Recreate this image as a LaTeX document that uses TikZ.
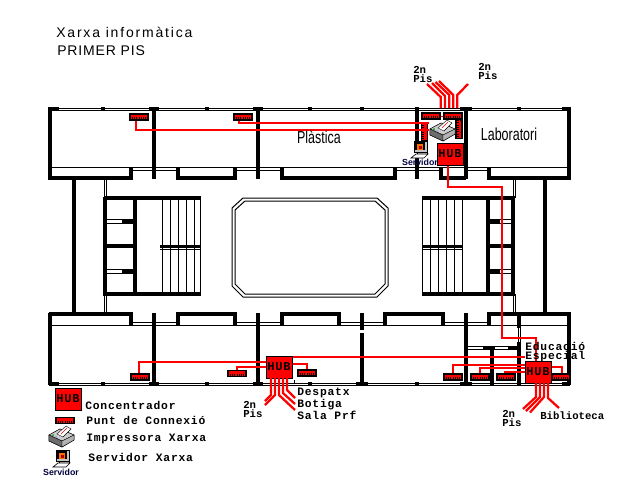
\documentclass[tikz,border=0pt]{standalone}
\usetikzlibrary{calc}
\usepackage{fontspec}
\setmainfont{Liberation Sans}
\newfontfamily\pixf{Liberation Mono}[BoldFont={Liberation Mono Bold},LetterSpace=7]
\newfontfamily\pixn{Liberation Mono}[BoldFont={Liberation Mono Bold}]
\newfontfamily\titlef[LetterSpace=13]{Liberation Sans}
\newfontfamily\titleg[LetterSpace=6]{Liberation Sans}
\begin{document}
\begin{tikzpicture}[x=0.75pt,y=-0.75pt,
  wall/.style={line width=3.3pt,black},
  midwall/.style={line width=2.25pt,black},
  thin/.style={line width=0.75pt,black},
  net/.style={line width=2.2pt,red},
  fan/.style={line width=1.7pt,red},
  hub/.style={draw=black,line width=0.75pt,fill=red,minimum width=19.5pt,minimum height=16.5pt,inner sep=0pt,font=\pixf\bfseries\fontsize{9}{10}\selectfont},
  punt/.style={draw=black,line width=0.9pt,fill=red,minimum width=13.5pt,minimum height=4.5pt,inner sep=0pt,
    path picture={\foreach \i in {1,...,7}{\draw[black,line width=0.5pt] ($(path picture bounding box.south west)!\i/8!(path picture bounding box.south east)$) -- ++(0pt,2pt);}}},
  puntv/.style={draw=black,line width=0.9pt,fill=red,minimum width=4.5pt,minimum height=13.5pt,inner sep=0pt,
    path picture={\foreach \i in {1,...,7}{\draw[black,line width=0.5pt] ($(path picture bounding box.south west)!\i/8!(path picture bounding box.north west)$) -- ++(2pt,0pt);}}},
  lab/.style={anchor=west,inner sep=0pt,align=left,font=\pixf\bfseries\fontsize{8.5}{7}\selectfont},
  labn/.style={anchor=west,inner sep=0pt,align=left,font=\pixn\bfseries\fontsize{8}{7}\selectfont},
  titl/.style={anchor=west,inner sep=0pt,font=\titlef\fontsize{10.5}{12}\selectfont},
  titg/.style={anchor=west,inner sep=0pt,font=\titleg\fontsize{10.5}{12}\selectfont},
  room/.style={inner sep=0pt,xscale=0.72,transform shape,font=\fontsize{13}{13}\selectfont},
  srvlab/.style={inner sep=0pt,text=blue!25!black,font=\bfseries\fontsize{6.6}{7}\selectfont},
  printer/.pic={
    \fill[gray!65,draw=black,line width=0.4pt] (-13,-2)--(-2,-8)--(12,-2)--(12,3)--(0,10)--(-13,4)--cycle;
    \fill[gray!40,draw=black,line width=0.3pt] (-13,-2)--(-2,-8)--(12,-2)--(0,4)--cycle;
    \fill[gray!85!black,draw=black,line width=0.3pt] (-13,-2)--(0,4)--(0,10)--(-13,4)--cycle;
    \fill[gray!60,draw=black,line width=0.3pt] (0,4)--(12,-2)--(12,3)--(0,10)--cycle;
    \fill[white,draw=black,line width=0.3pt] (-5,-3)--(4,-11)--(9,-8)--(1,0)--cycle;
    \draw[red,line width=0.5pt] (-1,-3)--(5,-9);
    \fill[green!60!black] (-9,-2) circle (1);
    \fill[blue!50] (-6,0) circle (0.8);
  },
  server/.pic={
    \fill[white] (-9,-8) rectangle (8,9);
    \fill[gray!45,draw=black,line width=0.5pt] (-6,-8) rectangle (7,3);
    \fill[black] (-5,-7) rectangle (5,1);
    \fill[orange!85!red] (-3,-5) rectangle (3,1);
    \fill[red!70!black] (-1,-3) rectangle (2,0);
    \fill[gray!30,draw=black,line width=0.4pt] (-3,3)--(7,3)--(7,5)--(-3,5)--cycle;
    \fill[white,draw=black,line width=0.5pt] (-9,9)--(-4,5)--(8,5)--(4,9)--cycle;
  }
]
\useasboundingbox (0,0) rectangle (640,480);
\fill[white] (0,0) rectangle (640,480);

% ---- top block
\draw[thin] (50,108.5)--(570,108.5) (50,110.5)--(570,110.5);
\foreach \x in {103,207,310,362,519}{\fill (\x-2,107) rectangle (\x+2,111);}
\foreach \x/\w in {54/5,154/5,258/5,466/6,566/4}{\fill (\x-\w,107) rectangle (\x+\w,111);}
\draw[wall] (50,107)--(50,180);
\foreach \x in {154,258,417,466,569}{\draw[wall] (\x,107)--(\x,179);}
\draw[thin] (50,167)--(570,167);
\foreach \a/\b in {131/178,235/282,395/441,466/489}{\draw[thin] (\a,170)--(\b,170);}
\draw[wall] (50,178)--(133,178) (131,178)--(131,167);
\draw[wall] (178,168)--(178,178)--(235,178)--(235,168);
\draw[wall] (282,168)--(282,178)--(395,178)--(395,168);
\draw[wall] (441,168)--(441,178)--(466,178);
\draw[wall] (489,168)--(489,178)--(571,178);

% ---- corridor
\draw[wall] (74,179)--(74,314);
\draw[wall] (545,179)--(545,314);
\draw[thin] (104,179)--(104,198) (106.5,179)--(106.5,198) (104,294)--(104,314) (106.5,294)--(106.5,314);
\draw[thin] (513,179)--(513,198) (515.5,179)--(515.5,198) (513,294)--(513,314) (515.5,294)--(515.5,314);

% ---- left stairs
\draw[wall] (104,198)--(201,198) (104,294)--(201,294);
\draw[wall] (105,197)--(105,296) (135,197)--(135,296);
\draw[wall] (105,246)--(135,246) (122,221)--(135,221) (122,271)--(135,271);
\draw[thin] (105,219)--(135,219) (105,223)--(135,223) (105,269)--(135,269) (105,273)--(135,273);
\foreach \x in {162,170,178,186,194,200}{\draw[thin] (\x,198)--(\x,294);}
\draw[midwall] (160,246)--(200,246);
\draw[thin] (160,249)--(200,249);

% ---- right stairs
\draw[wall] (422,198)--(515,198) (422,294)--(515,294);
\draw[wall] (488,197)--(488,296) (513,197)--(513,296);
\draw[wall] (488,246)--(513,246) (488,221)--(500,221) (488,271)--(500,271);
\draw[thin] (488,219)--(513,219) (488,223)--(513,223) (488,269)--(513,269) (488,273)--(513,273);
\foreach \x in {422,430,438,446,454,462}{\draw[thin] (\x,198)--(\x,294);}
\draw[midwall] (422,246)--(463,246);
\draw[thin] (422,249)--(463,249);

% ---- courtyard
\draw[thin] (243,198)--(377,198)--(388,208)--(388,286)--(377,297)--(243,297)--(232,286)--(232,208)--cycle;
\draw[thin] (245,201)--(375,201)--(385,210)--(385,284)--(375,294)--(245,294)--(235,284)--(235,210)--cycle;

% ---- bottom block
\draw[thin] (50,383)--(570,383) (50,385.5)--(570,385.5);
\foreach \x in {103,207,310,417}{\fill (\x-2,382) rectangle (\x+2,386);}
\foreach \x/\w in {54/5,154/5,258/5,362/6,466/6,566/4}{\fill (\x-\w,382) rectangle (\x+\w,386);}
\draw[thin] (50,325)--(570,325);
\foreach \a/\b in {131/178,235/282,339/385,443/489}{\draw[thin] (\a,322.5)--(\b,322.5);}
\draw[wall] (50,313)--(50,385);
\foreach \x in {154,258,466,569}{\draw[wall] (\x,313)--(\x,385);}
\draw[wall] (362,313)--(362,330) (362,332.5)--(362,386);
\draw[wall] (519,314)--(519,328) (519,342)--(519,385);
\draw[thin] (518,328)--(518,342) (520.5,328)--(520.5,342);
\draw[wall] (492,347)--(492,385);
\draw[thin] (466,346.5)--(519,346.5) (466,349.5)--(519,349.5);
\draw[wall] (483,348)--(495,348) (508,348)--(519,348);
\draw[wall] (48.5,314)--(133,314) (131,314)--(131,325);
\draw[wall] (178,325)--(178,314)--(235,314)--(235,325);
\draw[wall] (282,325)--(282,314)--(339,314)--(339,325);
\draw[wall] (385,325)--(385,314)--(443,314)--(443,325);
\draw[wall] (489,325)--(489,314)--(571,314);
\draw[thin] (294,380)--(294,384);

% ---- network
\coordinate (c1) at (429,130);
\coordinate (c2) at (429,123);
\coordinate (c3) at (502,187);
\coordinate (c4) at (536,338);
\node[hub] (hubT) at (450,154) {HUB};
\node[punt] (p1) at (139,117) {};
\node[punt] (p2) at (243,117) {};
\node[punt] (p3) at (431,116) {};
\node[punt] (p4) at (453,116) {};
\node[puntv] (p5) at (424.5,132) {};
\node[puntv] (p6) at (459,129.5) {};
\node[punt] (p7) at (140,377) {};
\node[punt] (p8) at (237,373.5) {};
\node[punt] (p9) at (307,373) {};
\node[punt] (p10) at (453,377) {};
\node[punt] (p11) at (480,377) {};
\node[punt] (p12) at (506,377) {};
\node[punt] (p13) at (561,377) {};
\node[hub] (hubL) at (279,367) {HUB};
\node[hub] (hubR) at (538,372) {HUB};
\draw[net] ([xshift=-2.25pt]p1.south) |- (c1);
\draw[net] ([xshift=-3pt]p2.south) |- (c2);
\draw[net] ([xshift=-1.5pt]hubT.south) |- (c3) |- (c4) -- (c4 |- hubR.north);
\draw[net] ([yshift=7.5pt]hubL.east) -- ([yshift=11.25pt]hubR.west);
\draw[net] ([yshift=3.75pt]hubL.west) -| ([xshift=-0.75pt]p7.north);
\draw[net] ([yshift=0pt]hubL.west) -| (p8.north);
\draw[net] ([yshift=2.25pt]hubL.east) -| (p9.north);
\draw[net,line width=1.6pt] (p10.north) |- ([yshift=5.25pt]hubR.west);
\draw[net,line width=1.6pt] (p11.north) |- ([yshift=3pt]hubR.west);
\draw[net,line width=1.6pt] ([xshift=-0.75pt]p12.north) |- (hubR.west);
\draw[net] ([yshift=3.75pt]hubR.east) -| ([xshift=0.75pt]p13.north);
\draw[net,line width=0.75pt] (p3.east)--(p4.west);
\draw[net,line width=0.75pt] (p6.north |- p4.south)--(p6.north);

% ---- fans
\coordinate (t1) at (427,84);\coordinate (t2) at (432,83);\coordinate (t3) at (435.5,82);\coordinate (t4) at (439,81);\coordinate (t5) at (468,84);
\draw[fan] (440.7,108)--(440.7,97)--(t1);
\draw[fan] (445,108)--(445,96)--(t2);
\draw[fan] (449.3,108)--(449.3,95)--(t3);
\draw[fan] (453.3,108)--(453.3,95)--(t4);
\draw[fan] (457.3,108)--(457.3,95)--(t5);
\coordinate (l1) at (265,401);\coordinate (l2) at (265,405);\coordinate (l3) at (295,410);\coordinate (l4) at (295,404);\coordinate (l5) at (295,398);
\draw[fan] (271,378)--(271,395)--(l1);
\draw[fan] (275,378)--(275,395)--(l2);
\draw[fan] (279,378)--(279,395)--(l3);
\draw[fan] (283,378)--(283,393)--(l4);
\draw[fan] (287,378)--(287,390)--(l5);
\coordinate (r1) at (523,409);\coordinate (r2) at (526,411);\coordinate (r3) at (530,412.5);\coordinate (r4) at (559,408);
\draw[fan] (536,383)--(536,397)--(r1);
\draw[fan] (540,383)--(540,397)--(r2);
\draw[fan] (544,383)--(544,397)--(r3);
\draw[fan] (548,383)--(548,398)--(r4);

% ---- icons
\pic at (443,131) {printer};
\pic at (420,149) {server};
\node[srvlab] (srvT) at (420,162) {Servidor};

% ---- titles and labels
\node[titl] (t1a) at (56,32) {Xarxa informàtica};
\node[titg] (t1b) at (57,51) {PRIMER PIS};
\node[room] (plastica) at (319,137) {Plàstica};
\node[room] (labo) at (509,134) {Laboratori};
\node[labn] (n1) at (413,74.5) {2n\\Pis};
\node[labn] (n2) at (478,71.5) {2n\\Pis};
\node[labn] (n3) at (243,409.5) {2n\\Pis};
\node[labn] (n4) at (502,418.5) {2n\\Pis};
\node[lab] (n5) at (297,404) {Despatx\\Botiga\\Sala Prf};
\node[lab] (n6) at (525,352) {Educació\\Especial};
\node[labn] (n7) at (540,416) {Biblioteca};

% ---- legend
\node[hub] (hubK) at (68,399) {HUB};
\node[lab] (k1) at (85,405) {Concentrador};
\node[punt] (pK) at (65,420.5) {};
\node[lab] (k2) at (86,420) {Punt de Connexió};
\pic at (62,437) {printer};
\node[lab] (k3) at (86,439) {Impressora Xarxa};
\pic at (62,458) {server};
\node[lab] (k4) at (88,457) {Servidor Xarxa};
\node[srvlab] (srvK) at (61,472) {Servidor};
\end{tikzpicture}
\end{document}
